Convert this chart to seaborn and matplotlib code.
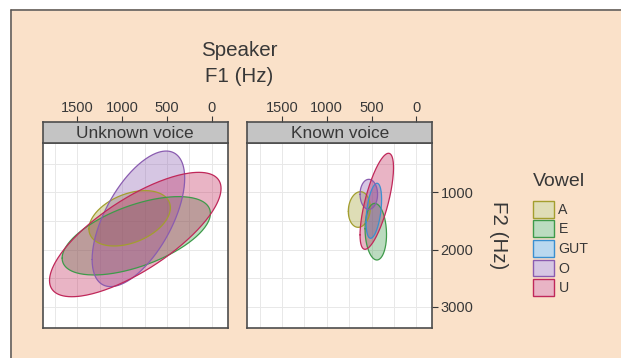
import numpy as np
import pandas as pd
import matplotlib
matplotlib.use("Agg")
import matplotlib.pyplot as plt
from matplotlib.patches import Rectangle, Patch
from matplotlib.lines import Line2D
from matplotlib.ticker import MultipleLocator
import seaborn as sns

# ellipse summaries: centre (F1, F2), half-ranges, correlation
vowels = ["A", "E", "GUT", "O", "U"]
panels = ["Unknown voice", "Known voice"]

unk_vowel = ["A", "E", "O", "U"]
unk_f1 = [917, 843, 819, 854]
unk_f2 = [1452, 1758, 1461, 1736]
unk_sd1 = [455, 828, 517, 958]
unk_sd2 = [485, 686, 1187, 1089]
unk_r = [0.38, 0.57, 0.60, 0.74]

kn_vowel = ["A", "E", "GUT", "O", "U"]
kn_f1 = [637, 453, 475, 531, 442]
kn_f2 = [1298, 1686, 1320, 1032, 1154]
kn_sd1 = [123, 120, 87, 98, 187]
kn_sd2 = [312, 496, 482, 263, 841]
kn_r = [0.10, -0.10, 0.41, 0.0, 0.70]

f1_ticks = [1500, 1000, 500, 0]
f2_ticks = [1000, 2000, 3000]

edge_cols = ["#A39E2E", "#3E9A4A", "#3A8FD0", "#8A5CB0", "#C0285A"]
pal = dict(zip(vowels, sns.color_palette(edge_cols)))

W, H = 621, 358
PEACH = "#FAE1C9"
TXT = "#383838"

sns.set_theme(style="white")
plt.rcParams["font.family"] = ["Liberation Sans", "DejaVu Sans"]


def outline(f1, f2, s1, s2, r):
    t = np.linspace(0, 2 * np.pi, 241)
    x = f1 + s1 * np.cos(t)
    y = f2 + s2 * (r * np.cos(t) + np.sqrt(1 - r * r) * np.sin(t))
    return pd.DataFrame({"F1": x, "F2": y, "order": np.arange(len(t))})


def px_box(x0, y0, x1, y1):
    return [x0 / W, 1 - y1 / H, (x1 - x0) / W, (y1 - y0) / H]


fig = plt.figure(figsize=(W / 100, H / 100), dpi=100)
fig.patch.set_facecolor(PEACH)
fig.patch.set_edgecolor(PEACH)
fig.patch.set_linewidth(0)
# white margin at top and left, with a dark rule along the peach edge
fig.patches.append(Rectangle((0, 0), 10 / W, 1, transform=fig.transFigure,
                             facecolor="white", lw=0, zorder=-5))
fig.patches.append(Rectangle((0, 1 - 9 / H), 1, 9 / H, transform=fig.transFigure,
                             facecolor="white", lw=0, zorder=-5))
fig.lines.append(Line2D([10.5 / W, 10.5 / W], [0, 1 - 9.5 / H], transform=fig.transFigure,
                        color="#555555", lw=1.1))
fig.lines.append(Line2D([10.5 / W, 1], [1 - 9.5 / H, 1 - 9.5 / H], transform=fig.transFigure,
                        color="#555555", lw=1.1))

xlim = (1888, -176)
ylim = (3378, 128)
lefts = [42.7, 247.3]
panel_w = 184.8

sets = [
    (unk_vowel, unk_f1, unk_f2, unk_sd1, unk_sd2, unk_r),
    (kn_vowel, kn_f1, kn_f2, kn_sd1, kn_sd2, kn_r),
]

for i, (panel, data) in enumerate(zip(panels, sets)):
    x0 = lefts[i]
    ax = fig.add_axes(px_box(x0, 142.7, x0 + panel_w, 328.3))
    strip = fig.add_axes(px_box(x0, 121.7, x0 + panel_w, 142.7), sharex=ax)

    ax.set_facecolor("white")
    ax.set_xlim(*xlim)
    ax.set_ylim(*ylim)
    ax.xaxis.set_major_locator(MultipleLocator(500))
    ax.xaxis.set_minor_locator(MultipleLocator(250))
    ax.yaxis.set_major_locator(MultipleLocator(1000))
    ax.yaxis.set_minor_locator(MultipleLocator(500))
    ax.grid(True, which="both", color="#E8E8E8", lw=0.7)
    ax.set_axisbelow(True)

    for v, c1, c2, s1, s2, r in zip(*data):
        df = outline(c1, c2, s1, s2, r)
        ax.fill(df["F1"], df["F2"], color=pal[v], alpha=0.35, lw=0)
        sns.lineplot(data=df, x="F1", y="F2", sort=False, estimator=None,
                     color=pal[v], lw=0.9, ax=ax)

    ax.set_xlabel("")
    ax.set_ylabel("")
    ax.tick_params(axis="x", which="both", bottom=False, labelbottom=False)
    if i == 1:
        ax.yaxis.tick_right()
        ax.set_yticks(f2_ticks)
        ax.tick_params(axis="y", which="major", right=True, length=4, width=0.8,
                       color=TXT, labelsize=10.5, labelcolor=TXT, pad=2)
        ax.tick_params(axis="y", which="minor", right=False, left=False)
    else:
        ax.tick_params(axis="y", which="both", left=False, right=False, labelleft=False)
    for s in ax.spines.values():
        s.set_color("#4D4D4D")
        s.set_linewidth(1.2)

    strip.set_facecolor("#C4C4C4")
    strip.set_ylim(0, 1)
    strip.set_yticks([])
    strip.xaxis.tick_top()
    strip.set_xticks(f1_ticks)
    strip.set_xticklabels([str(t) for t in f1_ticks])
    strip.tick_params(axis="x", which="major", top=True, bottom=False, length=4, width=0.8,
                      color=TXT, labelsize=10.5, labelcolor=TXT, pad=1)
    strip.tick_params(axis="x", which="minor", top=False, bottom=False)
    strip.text(0.5, 0.45, panel, transform=strip.transAxes, ha="center", va="center",
               fontsize=12.4, color=TXT)
    for s in strip.spines.values():
        s.set_color("#4D4D4D")
        s.set_linewidth(1.2)

fig.text(239 / W, 1 - 50 / H, "Speaker", ha="center", va="center", fontsize=14.8, color=TXT)
fig.text(239 / W, 1 - 77 / H, "F1 (Hz)", ha="center", va="center", fontsize=14.8, color=TXT)
fig.text(498.3 / W, 1 - 235 / H, "F2 (Hz)", ha="center", va="center", rotation=270,
         fontsize=14.8, color=TXT)
fig.text(533.3 / W, 1 - 182 / H, "Vowel", ha="left", va="center", fontsize=14, color=TXT)

handles = []
for v in vowels:
    rgb = np.array(pal[v])
    face = 0.35 * rgb + 0.65 * np.ones(3)
    handles.append(Patch(facecolor=face, edgecolor=pal[v], lw=1.0, label=v))
fig.legend(handles=handles, loc="upper left", bbox_to_anchor=(533.3 / W, 1 - 200.7 / H),
           frameon=False, fontsize=10.2, handlelength=1.45, handleheight=1.45,
           labelspacing=0.2, handletextpad=0.32, borderpad=0, borderaxespad=0,
           labelcolor=TXT)

fig.savefig("out.png", dpi=100, facecolor=fig.get_facecolor(), edgecolor=PEACH)
